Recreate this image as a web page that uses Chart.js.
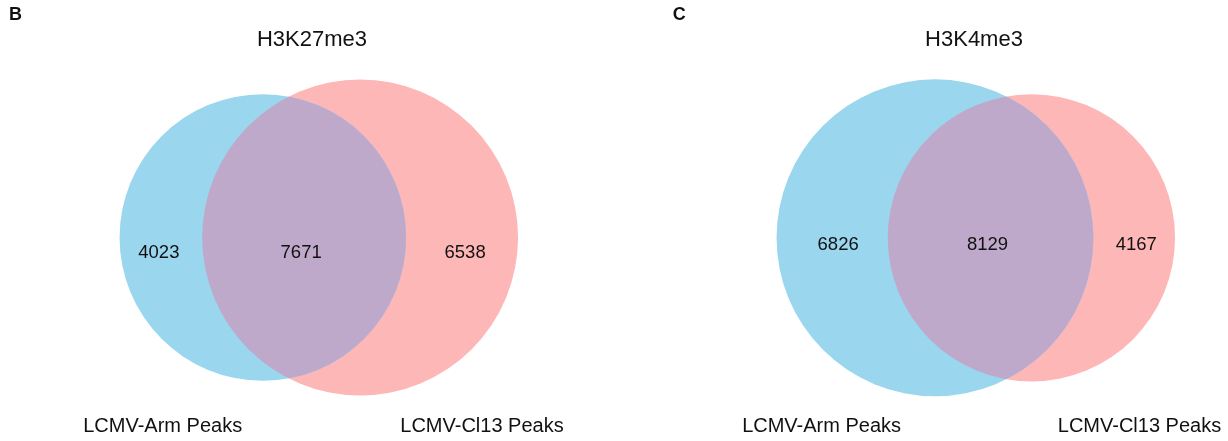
<!DOCTYPE html>
<html><head><meta charset="utf-8">
<script src="https://cdn.jsdelivr.net/npm/chart.js@4.4.1/dist/chart.umd.min.js"></script>
<style>
html,body{margin:0;padding:0;background:#fff;}
#wrap{position:relative;width:1228px;height:441px;overflow:hidden;}
.panel{position:absolute;top:0;width:614px;height:441px;}
</style></head><body>
<div id="wrap">
<div class="panel" style="left:0"><canvas id="c0" width="614" height="441"></canvas></div>
<div class="panel" style="left:614px"><canvas id="c1" width="614" height="441"></canvas></div>
</div>
<script>
// ---- data ----
const panelLetters = ['B', 'C'];
const panelTitles = ['H3K27me3', 'H3K4me3'];
const setNames = ['LCMV-Arm Peaks', 'LCMV-Cl13 Peaks'];
const armOnly = [4023, 6826];
const shared = [7671, 8129];
const cl13Only = [6538, 4167];

// ---- styles / layout (panel-local pixels) ----
const colors = { arm: '#9AD7EE', cl13: '#FEB7B7', both: '#BFA9CB', text: '#111111' };
const FONT = '"Liberation Sans", Arial, Helvetica, sans-serif';
const layout = [
  { cx: 318.8, cy: 237.5, width: 398.5, letterX: 9, titleX: 312, catX: [162.7, 482], numBase: 20.8, numDx: [-2, -3, 3] },
  { cx: 361.8, cy: 237.8, width: 398.5, letterX: 58.7, titleX: 360, catX: [207.6, 525.5], numBase: 12.5, numDx: [6, -3, 2] }
];

function lensArea(r1, r2, d) {
  if (d >= r1 + r2) return 0;
  if (d <= Math.abs(r1 - r2)) return Math.PI * Math.min(r1, r2) ** 2;
  const a1 = Math.acos((d * d + r1 * r1 - r2 * r2) / (2 * d * r1));
  const a2 = Math.acos((d * d + r2 * r2 - r1 * r1) / (2 * d * r2));
  const k = 0.5 * Math.sqrt((-d + r1 + r2) * (d + r1 - r2) * (d - r1 + r2) * (d + r1 + r2));
  return r1 * r1 * a1 + r2 * r2 * a2 - k;
}
function solveDistance(r1, r2, target) {
  let lo = Math.abs(r1 - r2) + 1e-9, hi = r1 + r2;
  for (let i = 0; i < 200; i++) {
    const mid = (lo + hi) / 2;
    if (lensArea(r1, r2, mid) > target) lo = mid; else hi = mid;
  }
  return (lo + hi) / 2;
}

function makePanel(i) {
  const nA = armOnly[i] + shared[i];
  const nB = cl13Only[i] + shared[i];
  const rA = Math.sqrt(nA / Math.PI);
  const rB = Math.sqrt(nB / Math.PI);
  const d = solveDistance(rA, rB, shared[i]);
  const L = layout[i];
  const s = L.width / (rA + d + rB);
  const armPx = L.cx - L.width / 2 + rA * s;
  const W = 614, H = 441;
  const radii = [rA, rB];
  const centers = [0, d];

  const overlapPlugin = {
    id: 'overlap' + i,
    afterDatasetsDraw(chart) {
      const a = chart.getDatasetMeta(0).data[0];
      const b = chart.getDatasetMeta(1).data[0];
      if (!a || !b || !(a.options.radius > 0)) return;
      const ctx = chart.ctx;
      ctx.save();
      ctx.beginPath();
      ctx.arc(a.x, a.y, a.options.radius, 0, Math.PI * 2);
      ctx.clip();
      ctx.beginPath();
      ctx.arc(b.x, b.y, b.options.radius, 0, Math.PI * 2);
      ctx.fillStyle = colors.both;
      ctx.fill();
      ctx.restore();
    },
    afterDraw(chart) {
      const a = chart.getDatasetMeta(0).data[0];
      const b = chart.getDatasetMeta(1).data[0];
      if (!a || !b || !(a.options.radius > 0)) return;
      const ra = a.options.radius, rb = b.options.radius;
      const ctx = chart.ctx;
      ctx.save();
      ctx.fillStyle = colors.text;
      ctx.textBaseline = 'alphabetic';
      ctx.textAlign = 'left';
      ctx.font = 'bold 18px ' + FONT;
      ctx.fillText(panelLetters[i], L.letterX, 19.5);
      ctx.textAlign = 'center';
      ctx.font = '22px ' + FONT;
      ctx.fillText(panelTitles[i], L.titleX, 46);
      ctx.font = '18.5px ' + FONT;
      const aL = a.x - ra, aR = a.x + ra, bL = b.x - rb, bR = b.x + rb;
      const yN = a.y + L.numBase;
      ctx.fillText(String(armOnly[i]), (aL + bL) / 2 + L.numDx[0], yN);
      ctx.fillText(String(shared[i]), (bL + aR) / 2 + L.numDx[1], yN);
      ctx.fillText(String(cl13Only[i]), (aR + bR) / 2 + L.numDx[2], yN);
      ctx.font = '20px ' + FONT;
      ctx.fillText(setNames[0], L.catX[0], 432);
      ctx.fillText(setNames[1], L.catX[1], 432);
      ctx.restore();
    }
  };

  const chart = new Chart(document.getElementById('c' + i), {
    type: 'bubble',
    data: {
      datasets: [
        { label: setNames[0], data: [{ x: centers[0], y: 0, r: 1 }], backgroundColor: colors.arm, borderWidth: 0, hoverBorderWidth: 0, hoverRadius: 0 },
        { label: setNames[1], data: [{ x: centers[1], y: 0, r: 1 }], backgroundColor: colors.cl13, borderWidth: 0, hoverBorderWidth: 0, hoverRadius: 0 }
      ]
    },
    options: {
      responsive: false,
      animation: false,
      events: [],
      layout: { padding: 0, autoPadding: false },
      plugins: { legend: { display: false }, tooltip: { enabled: false }, title: { display: false } },
      scales: {
        x: { type: 'linear', display: false, min: -armPx / s, max: (W - armPx) / s },
        y: { type: 'linear', display: false, min: -(H - L.cy) / s, max: L.cy / s }
      }
    },
    plugins: [overlapPlugin]
  });
  // bubble radius is in pixels: convert each circle's radius through the x scale
  const xs = chart.scales.x;
  chart.data.datasets.forEach((ds, k) => {
    const px = Math.abs(xs.getPixelForValue(radii[k]) - xs.getPixelForValue(0));
    ds.data = [{ x: centers[k], y: 0, r: px }];
  });
  chart.update('none');
  return chart;
}

makePanel(0);
makePanel(1);
</script>
</body></html>
